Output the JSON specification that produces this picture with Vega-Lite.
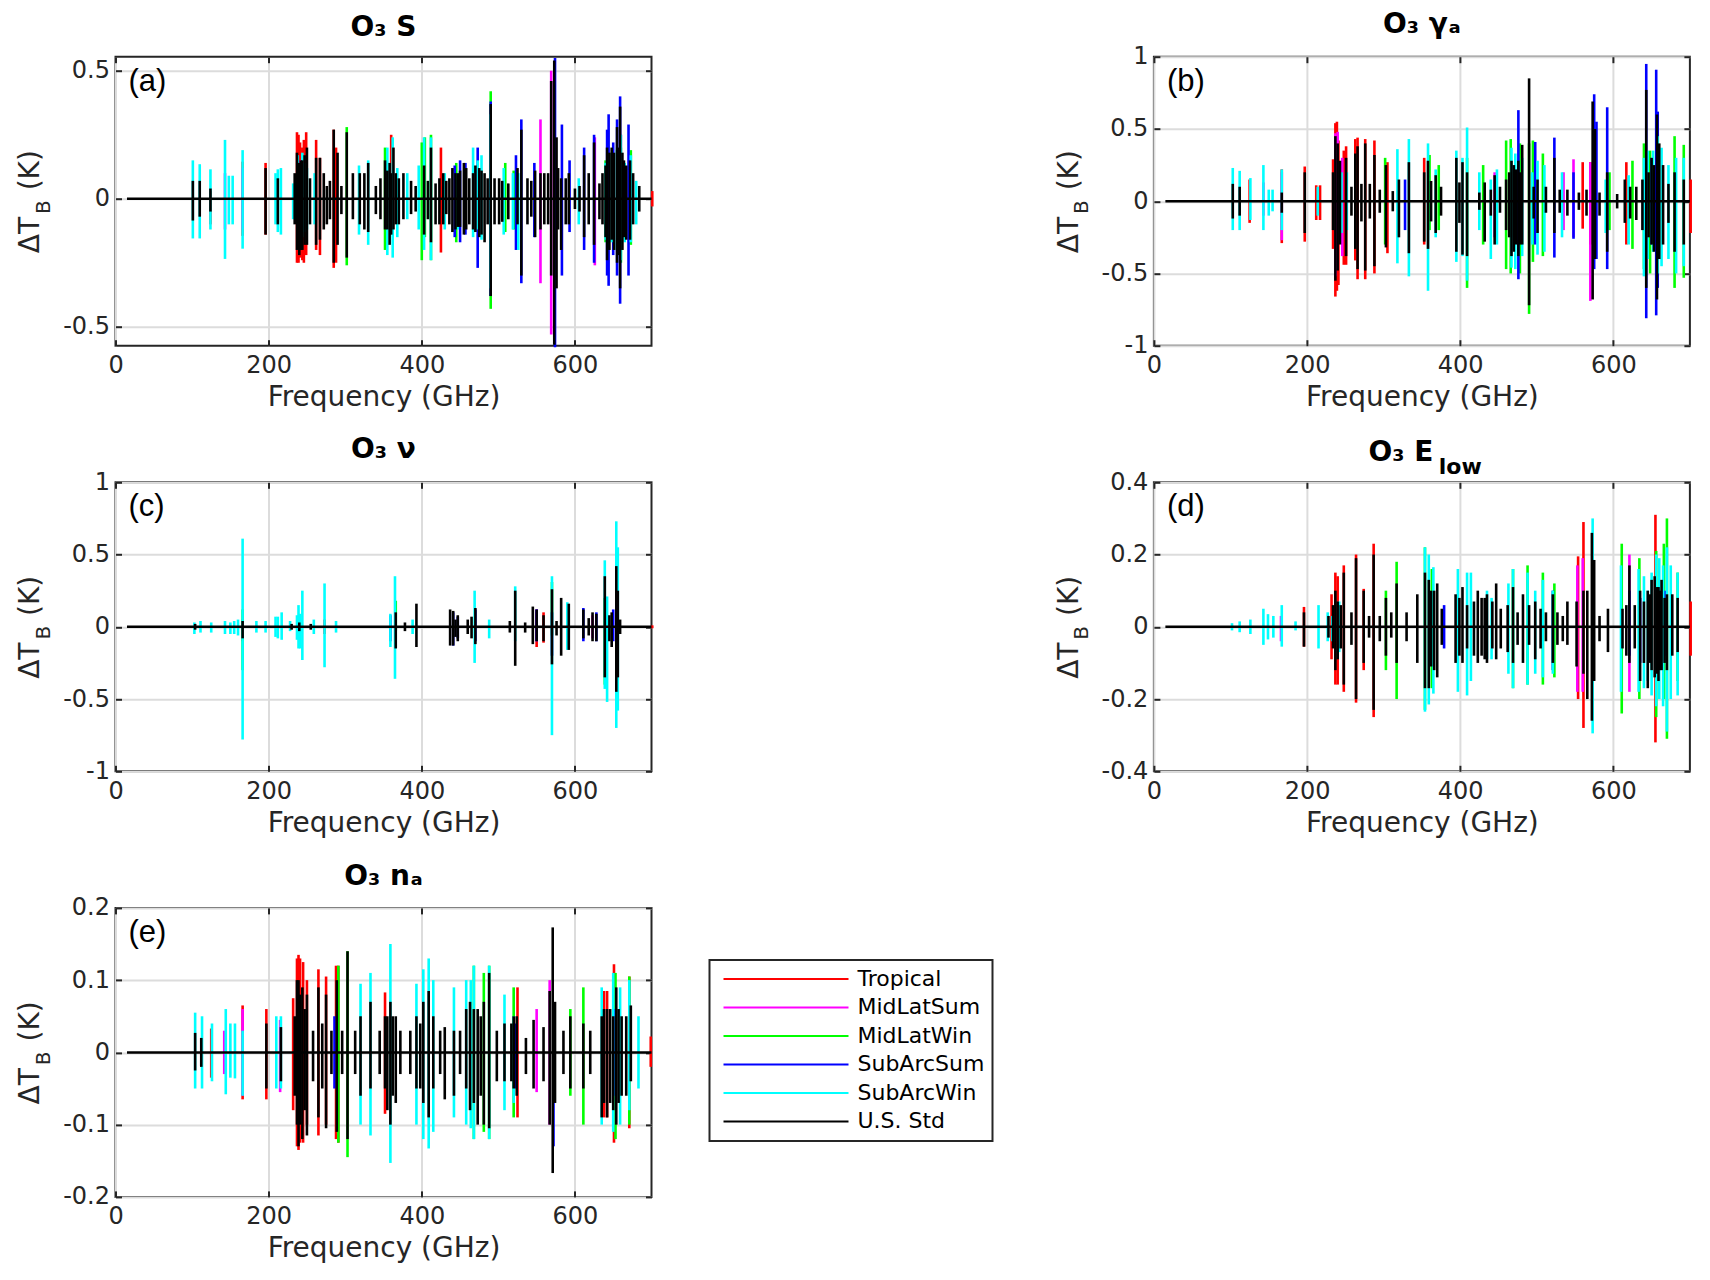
{"$schema":"https://vega.github.io/schema/vega-lite/v6.json","background":"white","padding":{"left":15.5,"top":9.7,"right":0,"bottom":0},
"config":{"font":"DejaVu Sans","legend":{"strokeWidth":2},"view":{"stroke":"#262626","strokeWidth":2,"continuousWidth":536,"continuousHeight":289},"axis":{"labelFont":"DejaVu Sans","titleFont":"DejaVu Sans","labelFontSize":24,"titleFontSize":28,"labelColor":"#262626","titleColor":"#262626","titleFontWeight":"normal","domain":false,"grid":true,"gridColor":"#dcdcdc","gridWidth":2,"tickColor":"#262626","tickWidth":2,"tickSize":-6},"axisX":{"labelPadding":14,"titlePadding":6,"labelFlush":false},"axisY":{"labelPadding":12,"titlePadding":18},"title":{"font":"DejaVu Sans","fontSize":28,"fontWeight":"bold","color":"#000000"}},
"datasets":{
"a":[
{"f":237,"s":"Tropical","lo":-0.25,"hi":0.26},{"f":239,"s":"Tropical","lo":-0.25,"hi":0.25},{"f":241,"s":"Tropical","lo":-0.23,"hi":0.22},{"f":244,"s":"Tropical","lo":-0.24,"hi":0.2},{"f":246,"s":"Tropical","lo":-0.25,"hi":0.23},{"f":249,"s":"Tropical","lo":-0.22,"hi":0.26},{"f":262,"s":"Tropical","lo":-0.2,"hi":0.23},{"f":267,"s":"Tropical","lo":-0.22,"hi":0.16},{"f":285,"s":"Tropical","lo":-0.27,"hi":0.27},{"f":288,"s":"Tropical","lo":-0.25,"hi":0.2},{"f":166,"s":"Tropical","lo":-0.145,"hi":0.145},{"f":124,"s":"Tropical","lo":-0.1,"hi":0.03},{"f":196,"s":"Tropical","lo":-0.14,"hi":0.14},{"f":425,"s":"Tropical","lo":-0.21,"hi":0.2},{"f":360,"s":"Tropical","lo":-0.14,"hi":0.25},{"f":701,"s":"Tropical","lo":-0.03,"hi":0.03},
{"f":143,"s":"MidLatSum","lo":-0.12,"hi":0.1},{"f":166,"s":"MidLatSum","lo":-0.12,"hi":0.12},{"f":238,"s":"MidLatSum","lo":-0.2,"hi":0.17},{"f":242,"s":"MidLatSum","lo":-0.19,"hi":0.15},{"f":555,"s":"MidLatSum","lo":-0.33,"hi":0.31},{"f":569,"s":"MidLatSum","lo":-0.53,"hi":0.5},{"f":626,"s":"MidLatSum","lo":-0.26,"hi":0.24},{"f":660,"s":"MidLatSum","lo":-0.2,"hi":0.25},
{"f":302,"s":"MidLatWin","lo":-0.26,"hi":0.28},{"f":352,"s":"MidLatWin","lo":-0.2,"hi":0.2},{"f":400,"s":"MidLatWin","lo":-0.24,"hi":0.22},{"f":404,"s":"MidLatWin","lo":-0.15,"hi":0.24},{"f":412,"s":"MidLatWin","lo":-0.24,"hi":0.25},{"f":445,"s":"MidLatWin","lo":-0.17,"hi":0.14},{"f":490,"s":"MidLatWin","lo":-0.43,"hi":0.42},{"f":509,"s":"MidLatWin","lo":-0.13,"hi":0.14},{"f":520,"s":"MidLatWin","lo":-0.12,"hi":0.11},{"f":640,"s":"MidLatWin","lo":-0.17,"hi":0.15},{"f":655,"s":"MidLatWin","lo":-0.2,"hi":0.19},{"f":660,"s":"MidLatWin","lo":-0.25,"hi":0.2},{"f":673,"s":"MidLatWin","lo":-0.18,"hi":0.19},
{"f":443,"s":"SubArcSum","lo":-0.15,"hi":0.13},{"f":450,"s":"SubArcSum","lo":-0.17,"hi":0.15},{"f":457,"s":"SubArcSum","lo":-0.14,"hi":0.14},{"f":473,"s":"SubArcSum","lo":-0.27,"hi":0.2},{"f":490,"s":"SubArcSum","lo":-0.38,"hi":0.38},{"f":530,"s":"SubArcSum","lo":-0.33,"hi":0.31},{"f":523,"s":"SubArcSum","lo":-0.2,"hi":0.17},{"f":574,"s":"SubArcSum","lo":-0.58,"hi":0.55},{"f":583,"s":"SubArcSum","lo":-0.3,"hi":0.29},{"f":547,"s":"SubArcSum","lo":-0.15,"hi":0.14},{"f":612,"s":"SubArcSum","lo":-0.2,"hi":0.2},{"f":625,"s":"SubArcSum","lo":-0.25,"hi":0.25},{"f":642,"s":"SubArcSum","lo":-0.3,"hi":0.27},{"f":644,"s":"SubArcSum","lo":-0.34,"hi":0.33},{"f":650,"s":"SubArcSum","lo":-0.22,"hi":0.22},{"f":655,"s":"SubArcSum","lo":-0.3,"hi":0.31},{"f":659,"s":"SubArcSum","lo":-0.41,"hi":0.4},{"f":670,"s":"SubArcSum","lo":-0.3,"hi":0.29},{"f":593,"s":"SubArcSum","lo":-0.13,"hi":0.15},
{"f":101,"s":"SubArcWin","lo":-0.155,"hi":0.15},{"f":110,"s":"SubArcWin","lo":-0.155,"hi":0.135},{"f":124,"s":"SubArcWin","lo":-0.12,"hi":0.115},{"f":143,"s":"SubArcWin","lo":-0.235,"hi":0.23},{"f":148,"s":"SubArcWin","lo":-0.1,"hi":0.09},{"f":153,"s":"SubArcWin","lo":-0.1,"hi":0.09},{"f":166,"s":"SubArcWin","lo":-0.195,"hi":0.19},{"f":209,"s":"SubArcWin","lo":-0.1,"hi":0.1},{"f":212,"s":"SubArcWin","lo":-0.13,"hi":0.115},{"f":216,"s":"SubArcWin","lo":-0.14,"hi":0.12},{"f":232,"s":"SubArcWin","lo":-0.08,"hi":0.06},{"f":238,"s":"SubArcWin","lo":-0.17,"hi":0.17},{"f":241,"s":"SubArcWin","lo":-0.14,"hi":0.13},{"f":244,"s":"SubArcWin","lo":-0.15,"hi":0.18},{"f":247,"s":"SubArcWin","lo":-0.13,"hi":0.14},{"f":250,"s":"SubArcWin","lo":-0.12,"hi":0.12},{"f":260,"s":"SubArcWin","lo":-0.1,"hi":0.1},{"f":318,"s":"SubArcWin","lo":-0.14,"hi":0.13},{"f":330,"s":"SubArcWin","lo":-0.18,"hi":0.15},{"f":355,"s":"SubArcWin","lo":-0.22,"hi":0.2},{"f":362,"s":"SubArcWin","lo":-0.23,"hi":0.24},{"f":368,"s":"SubArcWin","lo":-0.15,"hi":0.12},{"f":381,"s":"SubArcWin","lo":-0.08,"hi":0.1},{"f":396,"s":"SubArcWin","lo":-0.12,"hi":0.13},{"f":403,"s":"SubArcWin","lo":-0.2,"hi":0.24},{"f":412,"s":"SubArcWin","lo":-0.24,"hi":0.24},{"f":430,"s":"SubArcWin","lo":-0.12,"hi":0.1},{"f":447,"s":"SubArcWin","lo":-0.12,"hi":0.1},{"f":467,"s":"SubArcWin","lo":-0.15,"hi":0.2},{"f":473,"s":"SubArcWin","lo":-0.12,"hi":0.15},{"f":478,"s":"SubArcWin","lo":-0.16,"hi":0.17},{"f":490,"s":"SubArcWin","lo":-0.35,"hi":0.33},{"f":507,"s":"SubArcWin","lo":-0.14,"hi":0.12},{"f":519,"s":"SubArcWin","lo":-0.12,"hi":0.1},{"f":526,"s":"SubArcWin","lo":-0.2,"hi":0.1},{"f":605,"s":"SubArcWin","lo":-0.1,"hi":0.08},{"f":640,"s":"SubArcWin","lo":-0.16,"hi":0.14},{"f":648,"s":"SubArcWin","lo":-0.17,"hi":0.18},{"f":655,"s":"SubArcWin","lo":-0.2,"hi":0.2},{"f":660,"s":"SubArcWin","lo":-0.24,"hi":0.25},{"f":665,"s":"SubArcWin","lo":-0.17,"hi":0.14},{"f":673,"s":"SubArcWin","lo":-0.17,"hi":0.17},{"f":680,"s":"SubArcWin","lo":-0.1,"hi":0.07},
{"f":101,"s":"U.S. Std","lo":-0.085,"hi":0.07},{"f":110,"s":"U.S. Std","lo":-0.07,"hi":0.07},{"f":124,"s":"U.S. Std","lo":-0.05,"hi":0.04},{"f":196,"s":"U.S. Std","lo":-0.14,"hi":0.12},{"f":212,"s":"U.S. Std","lo":-0.1,"hi":0.08},{"f":234,"s":"U.S. Std","lo":-0.1,"hi":0.1},{"f":237,"s":"U.S. Std","lo":-0.2,"hi":0.18},{"f":240,"s":"U.S. Std","lo":-0.22,"hi":0.14},{"f":242,"s":"U.S. Std","lo":-0.2,"hi":0.15},{"f":244,"s":"U.S. Std","lo":-0.2,"hi":0.15},{"f":247,"s":"U.S. Std","lo":-0.18,"hi":0.17},{"f":250,"s":"U.S. Std","lo":-0.18,"hi":0.2},{"f":254,"s":"U.S. Std","lo":-0.1,"hi":0.08},{"f":262,"s":"U.S. Std","lo":-0.18,"hi":0.16},{"f":267,"s":"U.S. Std","lo":-0.16,"hi":0.16},{"f":272,"s":"U.S. Std","lo":-0.12,"hi":0.1},{"f":276,"s":"U.S. Std","lo":-0.1,"hi":0.05},{"f":280,"s":"U.S. Std","lo":-0.08,"hi":0.07},{"f":285,"s":"U.S. Std","lo":-0.25,"hi":0.27},{"f":290,"s":"U.S. Std","lo":-0.18,"hi":0.18},{"f":295,"s":"U.S. Std","lo":-0.06,"hi":0.05},{"f":302,"s":"U.S. Std","lo":-0.23,"hi":0.26},{"f":310,"s":"U.S. Std","lo":-0.08,"hi":0.1},{"f":319,"s":"U.S. Std","lo":-0.1,"hi":0.1},{"f":325,"s":"U.S. Std","lo":-0.12,"hi":0.1},{"f":330,"s":"U.S. Std","lo":-0.13,"hi":0.14},{"f":340,"s":"U.S. Std","lo":-0.06,"hi":0.05},{"f":346,"s":"U.S. Std","lo":-0.08,"hi":0.08},{"f":352,"s":"U.S. Std","lo":-0.12,"hi":0.15},{"f":355,"s":"U.S. Std","lo":-0.12,"hi":0.11},{"f":358,"s":"U.S. Std","lo":-0.18,"hi":0.14},{"f":360,"s":"U.S. Std","lo":-0.14,"hi":0.1},{"f":363,"s":"U.S. Std","lo":-0.12,"hi":0.2},{"f":366,"s":"U.S. Std","lo":-0.1,"hi":0.1},{"f":370,"s":"U.S. Std","lo":-0.1,"hi":0.08},{"f":376,"s":"U.S. Std","lo":-0.08,"hi":0.1},{"f":386,"s":"U.S. Std","lo":-0.06,"hi":0.07},{"f":392,"s":"U.S. Std","lo":-0.05,"hi":0.05},{"f":403,"s":"U.S. Std","lo":-0.14,"hi":0.13},{"f":408,"s":"U.S. Std","lo":-0.08,"hi":0.07},{"f":412,"s":"U.S. Std","lo":-0.17,"hi":0.2},{"f":418,"s":"U.S. Std","lo":-0.1,"hi":0.06},{"f":423,"s":"U.S. Std","lo":-0.1,"hi":0.08},{"f":428,"s":"U.S. Std","lo":-0.1,"hi":0.1},{"f":432,"s":"U.S. Std","lo":-0.06,"hi":0.07},{"f":436,"s":"U.S. Std","lo":-0.1,"hi":0.08},{"f":440,"s":"U.S. Std","lo":-0.13,"hi":0.12},{"f":444,"s":"U.S. Std","lo":-0.12,"hi":0.1},{"f":447,"s":"U.S. Std","lo":-0.11,"hi":0.1},{"f":450,"s":"U.S. Std","lo":-0.11,"hi":0.11},{"f":455,"s":"U.S. Std","lo":-0.14,"hi":0.14},{"f":458,"s":"U.S. Std","lo":-0.12,"hi":0.12},{"f":462,"s":"U.S. Std","lo":-0.1,"hi":0.08},{"f":467,"s":"U.S. Std","lo":-0.12,"hi":0.1},{"f":470,"s":"U.S. Std","lo":-0.13,"hi":0.13},{"f":475,"s":"U.S. Std","lo":-0.15,"hi":0.12},{"f":478,"s":"U.S. Std","lo":-0.14,"hi":0.11},{"f":482,"s":"U.S. Std","lo":-0.17,"hi":0.1},{"f":486,"s":"U.S. Std","lo":-0.1,"hi":0.08},{"f":490,"s":"U.S. Std","lo":-0.38,"hi":0.37},{"f":495,"s":"U.S. Std","lo":-0.1,"hi":0.08},{"f":501,"s":"U.S. Std","lo":-0.1,"hi":0.08},{"f":505,"s":"U.S. Std","lo":-0.09,"hi":0.07},{"f":513,"s":"U.S. Std","lo":-0.08,"hi":0.06},{"f":525,"s":"U.S. Std","lo":-0.1,"hi":0.12},{"f":530,"s":"U.S. Std","lo":-0.3,"hi":0.27},{"f":538,"s":"U.S. Std","lo":-0.1,"hi":0.08},{"f":543,"s":"U.S. Std","lo":-0.07,"hi":0.07},{"f":548,"s":"U.S. Std","lo":-0.15,"hi":0.11},{"f":555,"s":"U.S. Std","lo":-0.12,"hi":0.1},{"f":560,"s":"U.S. Std","lo":-0.1,"hi":0.1},{"f":565,"s":"U.S. Std","lo":-0.1,"hi":0.1},{"f":569,"s":"U.S. Std","lo":-0.3,"hi":0.46},{"f":573,"s":"U.S. Std","lo":-0.57,"hi":0.54},{"f":576,"s":"U.S. Std","lo":-0.35,"hi":0.24},{"f":578,"s":"U.S. Std","lo":-0.12,"hi":0.12},{"f":582,"s":"U.S. Std","lo":-0.2,"hi":0.08},{"f":588,"s":"U.S. Std","lo":-0.1,"hi":0.08},{"f":592,"s":"U.S. Std","lo":-0.1,"hi":0.1},{"f":600,"s":"U.S. Std","lo":-0.04,"hi":0.04},{"f":606,"s":"U.S. Std","lo":-0.05,"hi":0.05},{"f":612,"s":"U.S. Std","lo":-0.15,"hi":0.17},{"f":618,"s":"U.S. Std","lo":-0.1,"hi":0.1},{"f":625,"s":"U.S. Std","lo":-0.18,"hi":0.22},{"f":632,"s":"U.S. Std","lo":-0.08,"hi":0.06},{"f":636,"s":"U.S. Std","lo":-0.1,"hi":0.1},{"f":640,"s":"U.S. Std","lo":-0.15,"hi":0.13},{"f":642,"s":"U.S. Std","lo":-0.24,"hi":0.2},{"f":645,"s":"U.S. Std","lo":-0.2,"hi":0.18},{"f":648,"s":"U.S. Std","lo":-0.16,"hi":0.2},{"f":651,"s":"U.S. Std","lo":-0.2,"hi":0.18},{"f":655,"s":"U.S. Std","lo":-0.25,"hi":0.28},{"f":657,"s":"U.S. Std","lo":-0.22,"hi":0.2},{"f":659,"s":"U.S. Std","lo":-0.35,"hi":0.36},{"f":662,"s":"U.S. Std","lo":-0.2,"hi":0.18},{"f":664,"s":"U.S. Std","lo":-0.15,"hi":0.15},{"f":667,"s":"U.S. Std","lo":-0.16,"hi":0.13},{"f":672,"s":"U.S. Std","lo":-0.16,"hi":0.15},{"f":676,"s":"U.S. Std","lo":-0.1,"hi":0.1},{"f":684,"s":"U.S. Std","lo":-0.05,"hi":0.05}],
"b":[
{"f":125,"s":"Tropical","lo":-0.15,"hi":0.15},{"f":167,"s":"Tropical","lo":-0.29,"hi":0.22},{"f":197,"s":"Tropical","lo":-0.28,"hi":0.24},{"f":212,"s":"Tropical","lo":-0.13,"hi":0.11},{"f":217,"s":"Tropical","lo":-0.13,"hi":0.11},{"f":234,"s":"Tropical","lo":-0.33,"hi":0.29},{"f":237,"s":"Tropical","lo":-0.66,"hi":0.54},{"f":239,"s":"Tropical","lo":-0.62,"hi":0.55},{"f":241,"s":"Tropical","lo":-0.58,"hi":0.42},{"f":248,"s":"Tropical","lo":-0.44,"hi":0.35},{"f":251,"s":"Tropical","lo":-0.44,"hi":0.38},{"f":263,"s":"Tropical","lo":-0.41,"hi":0.43},{"f":266,"s":"Tropical","lo":-0.54,"hi":0.44},{"f":276,"s":"Tropical","lo":-0.54,"hi":0.43},{"f":288,"s":"Tropical","lo":-0.5,"hi":0.42},{"f":305,"s":"Tropical","lo":-0.36,"hi":0.27},{"f":353,"s":"Tropical","lo":-0.3,"hi":0.3},{"f":570,"s":"Tropical","lo":-0.3,"hi":0.27},{"f":560,"s":"Tropical","lo":-0.19,"hi":0.27},{"f":617,"s":"Tropical","lo":-0.3,"hi":0.27},{"f":701,"s":"Tropical","lo":-0.22,"hi":0.15},
{"f":143,"s":"MidLatSum","lo":-0.1,"hi":0.13},{"f":167,"s":"MidLatSum","lo":-0.27,"hi":0.2},{"f":237,"s":"MidLatSum","lo":-0.52,"hi":0.47},{"f":240,"s":"MidLatSum","lo":-0.47,"hi":0.48},{"f":246,"s":"MidLatSum","lo":-0.38,"hi":0.3},{"f":445,"s":"MidLatSum","lo":-0.25,"hi":0.2},{"f":570,"s":"MidLatSum","lo":-0.69,"hi":0.27},{"f":548,"s":"MidLatSum","lo":-0.25,"hi":0.29},{"f":535,"s":"MidLatSum","lo":-0.2,"hi":0.2},
{"f":302,"s":"MidLatWin","lo":-0.3,"hi":0.3},{"f":360,"s":"MidLatWin","lo":-0.2,"hi":0.32},{"f":372,"s":"MidLatWin","lo":-0.2,"hi":0.25},{"f":409,"s":"MidLatWin","lo":-0.6,"hi":0.3},{"f":430,"s":"MidLatWin","lo":-0.3,"hi":0.25},{"f":460,"s":"MidLatWin","lo":-0.47,"hi":0.42},{"f":466,"s":"MidLatWin","lo":-0.5,"hi":0.43},{"f":478,"s":"MidLatWin","lo":-0.5,"hi":0.4},{"f":490,"s":"MidLatWin","lo":-0.78,"hi":0.4},{"f":495,"s":"MidLatWin","lo":-0.42,"hi":0.42},{"f":508,"s":"MidLatWin","lo":-0.38,"hi":0.33},{"f":640,"s":"MidLatWin","lo":-0.47,"hi":0.4},{"f":648,"s":"MidLatWin","lo":-0.5,"hi":0.35},{"f":658,"s":"MidLatWin","lo":-0.52,"hi":0.47},{"f":680,"s":"MidLatWin","lo":-0.6,"hi":0.45},{"f":692,"s":"MidLatWin","lo":-0.53,"hi":0.39},{"f":595,"s":"MidLatWin","lo":-0.2,"hi":0.2},{"f":625,"s":"MidLatWin","lo":-0.33,"hi":0.28},
{"f":328,"s":"SubArcSum","lo":-0.2,"hi":0.15},{"f":476,"s":"SubArcSum","lo":-0.54,"hi":0.63},{"f":498,"s":"SubArcSum","lo":-0.3,"hi":0.41},{"f":523,"s":"SubArcSum","lo":-0.39,"hi":0.44},{"f":548,"s":"SubArcSum","lo":-0.26,"hi":0.2},{"f":575,"s":"SubArcSum","lo":-0.47,"hi":0.74},{"f":578,"s":"SubArcSum","lo":-0.4,"hi":0.55},{"f":592,"s":"SubArcSum","lo":-0.47,"hi":0.65},{"f":643,"s":"SubArcSum","lo":-0.81,"hi":0.95},{"f":656,"s":"SubArcSum","lo":-0.79,"hi":0.91},{"f":658,"s":"SubArcSum","lo":-0.6,"hi":0.62},{"f":650,"s":"SubArcSum","lo":-0.3,"hi":0.3},
{"f":103,"s":"SubArcWin","lo":-0.2,"hi":0.23},{"f":112,"s":"SubArcWin","lo":-0.2,"hi":0.21},{"f":126,"s":"SubArcWin","lo":-0.13,"hi":0.16},{"f":143,"s":"SubArcWin","lo":-0.2,"hi":0.25},{"f":150,"s":"SubArcWin","lo":-0.1,"hi":0.08},{"f":155,"s":"SubArcWin","lo":-0.07,"hi":0.08},{"f":167,"s":"SubArcWin","lo":-0.2,"hi":0.22},{"f":214,"s":"SubArcWin","lo":-0.1,"hi":0.1},{"f":245,"s":"SubArcWin","lo":-0.22,"hi":0.2},{"f":252,"s":"SubArcWin","lo":-0.2,"hi":0.2},{"f":318,"s":"SubArcWin","lo":-0.43,"hi":0.36},{"f":333,"s":"SubArcWin","lo":-0.52,"hi":0.43},{"f":358,"s":"SubArcWin","lo":-0.62,"hi":0.4},{"f":368,"s":"SubArcWin","lo":-0.25,"hi":0.22},{"f":395,"s":"SubArcWin","lo":-0.42,"hi":0.35},{"f":403,"s":"SubArcWin","lo":-0.38,"hi":0.3},{"f":409,"s":"SubArcWin","lo":-0.55,"hi":0.51},{"f":425,"s":"SubArcWin","lo":-0.2,"hi":0.2},{"f":440,"s":"SubArcWin","lo":-0.4,"hi":0.15},{"f":448,"s":"SubArcWin","lo":-0.3,"hi":0.22},{"f":467,"s":"SubArcWin","lo":-0.46,"hi":0.37},{"f":472,"s":"SubArcWin","lo":-0.47,"hi":0.33},{"f":481,"s":"SubArcWin","lo":-0.38,"hi":0.3},{"f":494,"s":"SubArcWin","lo":-0.3,"hi":0.2},{"f":501,"s":"SubArcWin","lo":-0.37,"hi":0.28},{"f":510,"s":"SubArcWin","lo":-0.35,"hi":0.25},{"f":533,"s":"SubArcWin","lo":-0.25,"hi":0.2},{"f":590,"s":"SubArcWin","lo":-0.22,"hi":0.15},{"f":620,"s":"SubArcWin","lo":-0.3,"hi":0.18},{"f":640,"s":"SubArcWin","lo":-0.52,"hi":0.3},{"f":645,"s":"SubArcWin","lo":-0.4,"hi":0.35},{"f":652,"s":"SubArcWin","lo":-0.35,"hi":0.35},{"f":658,"s":"SubArcWin","lo":-0.5,"hi":0.45},{"f":663,"s":"SubArcWin","lo":-0.45,"hi":0.37},{"f":672,"s":"SubArcWin","lo":-0.4,"hi":0.25},{"f":682,"s":"SubArcWin","lo":-0.5,"hi":0.3},{"f":692,"s":"SubArcWin","lo":-0.45,"hi":0.3},
{"f":103,"s":"U.S. Std","lo":-0.12,"hi":0.12},{"f":112,"s":"U.S. Std","lo":-0.1,"hi":0.1},{"f":197,"s":"U.S. Std","lo":-0.22,"hi":0.2},{"f":167,"s":"U.S. Std","lo":-0.08,"hi":0.06},{"f":234,"s":"U.S. Std","lo":-0.2,"hi":0.2},{"f":237,"s":"U.S. Std","lo":-0.55,"hi":0.45},{"f":240,"s":"U.S. Std","lo":-0.48,"hi":0.4},{"f":243,"s":"U.S. Std","lo":-0.3,"hi":0.28},{"f":251,"s":"U.S. Std","lo":-0.38,"hi":0.3},{"f":258,"s":"U.S. Std","lo":-0.1,"hi":0.1},{"f":263,"s":"U.S. Std","lo":-0.33,"hi":0.33},{"f":266,"s":"U.S. Std","lo":-0.47,"hi":0.38},{"f":271,"s":"U.S. Std","lo":-0.14,"hi":0.12},{"f":276,"s":"U.S. Std","lo":-0.48,"hi":0.4},{"f":282,"s":"U.S. Std","lo":-0.12,"hi":0.12},{"f":288,"s":"U.S. Std","lo":-0.45,"hi":0.32},{"f":295,"s":"U.S. Std","lo":-0.08,"hi":0.08},{"f":303,"s":"U.S. Std","lo":-0.32,"hi":0.25},{"f":312,"s":"U.S. Std","lo":-0.07,"hi":0.07},{"f":320,"s":"U.S. Std","lo":-0.25,"hi":0.15},{"f":333,"s":"U.S. Std","lo":-0.36,"hi":0.27},{"f":353,"s":"U.S. Std","lo":-0.28,"hi":0.2},{"f":358,"s":"U.S. Std","lo":-0.33,"hi":0.28},{"f":362,"s":"U.S. Std","lo":-0.14,"hi":0.14},{"f":368,"s":"U.S. Std","lo":-0.22,"hi":0.18},{"f":375,"s":"U.S. Std","lo":-0.1,"hi":0.1},{"f":395,"s":"U.S. Std","lo":-0.35,"hi":0.3},{"f":399,"s":"U.S. Std","lo":-0.15,"hi":0.13},{"f":403,"s":"U.S. Std","lo":-0.37,"hi":0.27},{"f":409,"s":"U.S. Std","lo":-0.38,"hi":0.2},{"f":425,"s":"U.S. Std","lo":-0.06,"hi":0.06},{"f":432,"s":"U.S. Std","lo":-0.28,"hi":0.13},{"f":440,"s":"U.S. Std","lo":-0.1,"hi":0.08},{"f":445,"s":"U.S. Std","lo":-0.3,"hi":0.18},{"f":452,"s":"U.S. Std","lo":-0.08,"hi":0.1},{"f":460,"s":"U.S. Std","lo":-0.2,"hi":0.15},{"f":464,"s":"U.S. Std","lo":-0.25,"hi":0.2},{"f":467,"s":"U.S. Std","lo":-0.38,"hi":0.28},{"f":470,"s":"U.S. Std","lo":-0.35,"hi":0.25},{"f":473,"s":"U.S. Std","lo":-0.3,"hi":0.22},{"f":476,"s":"U.S. Std","lo":-0.38,"hi":0.28},{"f":478,"s":"U.S. Std","lo":-0.3,"hi":0.2},{"f":481,"s":"U.S. Std","lo":-0.3,"hi":0.39},{"f":490,"s":"U.S. Std","lo":-0.72,"hi":0.85},{"f":496,"s":"U.S. Std","lo":-0.12,"hi":0.1},{"f":501,"s":"U.S. Std","lo":-0.22,"hi":0.15},{"f":512,"s":"U.S. Std","lo":-0.08,"hi":0.1},{"f":523,"s":"U.S. Std","lo":-0.22,"hi":0.3},{"f":530,"s":"U.S. Std","lo":-0.08,"hi":0.08},{"f":540,"s":"U.S. Std","lo":-0.1,"hi":0.08},{"f":555,"s":"U.S. Std","lo":-0.06,"hi":0.06},{"f":565,"s":"U.S. Std","lo":-0.1,"hi":0.08},{"f":573,"s":"U.S. Std","lo":-0.68,"hi":0.69},{"f":576,"s":"U.S. Std","lo":-0.4,"hi":0.5},{"f":582,"s":"U.S. Std","lo":-0.1,"hi":0.06},{"f":592,"s":"U.S. Std","lo":-0.35,"hi":0.2},{"f":605,"s":"U.S. Std","lo":-0.05,"hi":0.05},{"f":615,"s":"U.S. Std","lo":-0.15,"hi":0.15},{"f":622,"s":"U.S. Std","lo":-0.12,"hi":0.1},{"f":630,"s":"U.S. Std","lo":-0.13,"hi":0.1},{"f":638,"s":"U.S. Std","lo":-0.2,"hi":0.15},{"f":643,"s":"U.S. Std","lo":-0.6,"hi":0.77},{"f":646,"s":"U.S. Std","lo":-0.25,"hi":0.2},{"f":650,"s":"U.S. Std","lo":-0.3,"hi":0.3},{"f":653,"s":"U.S. Std","lo":-0.35,"hi":0.25},{"f":657,"s":"U.S. Std","lo":-0.68,"hi":0.6},{"f":660,"s":"U.S. Std","lo":-0.4,"hi":0.4},{"f":665,"s":"U.S. Std","lo":-0.3,"hi":0.25},{"f":672,"s":"U.S. Std","lo":-0.15,"hi":0.12},{"f":680,"s":"U.S. Std","lo":-0.35,"hi":0.2},{"f":692,"s":"U.S. Std","lo":-0.3,"hi":0.15}],
"c":[
{"f":166,"s":"Tropical","lo":-0.1,"hi":0.05},{"f":273,"s":"Tropical","lo":-0.05,"hi":0.05},{"f":559,"s":"Tropical","lo":-0.11,"hi":0.1},{"f":550,"s":"Tropical","lo":-0.14,"hi":0.1},{"f":701,"s":"Tropical","lo":-0.01,"hi":0.01},
{"f":550,"s":"MidLatSum","lo":-0.1,"hi":0.12},{"f":655,"s":"MidLatSum","lo":-0.08,"hi":0.18},{"f":623,"s":"MidLatSum","lo":-0.08,"hi":0.08},
{"f":166,"s":"MidLatWin","lo":-0.3,"hi":0.12},{"f":570,"s":"MidLatWin","lo":-0.06,"hi":0.31},{"f":366,"s":"MidLatWin","lo":-0.03,"hi":0.18},{"f":639,"s":"MidLatWin","lo":-0.4,"hi":0.2},
{"f":359,"s":"SubArcSum","lo":-0.1,"hi":0.08},{"f":441,"s":"SubArcSum","lo":-0.13,"hi":0.1},{"f":447,"s":"SubArcSum","lo":-0.08,"hi":0.07},{"f":470,"s":"SubArcSum","lo":-0.1,"hi":0.12},{"f":570,"s":"SubArcSum","lo":-0.2,"hi":0.1},{"f":550,"s":"SubArcSum","lo":-0.1,"hi":0.12},{"f":611,"s":"SubArcSum","lo":-0.1,"hi":0.13},{"f":628,"s":"SubArcSum","lo":-0.1,"hi":0.1},{"f":650,"s":"SubArcSum","lo":-0.1,"hi":0.12},{"f":655,"s":"SubArcSum","lo":-0.12,"hi":0.1},
{"f":103,"s":"SubArcWin","lo":-0.05,"hi":0.03},{"f":111,"s":"SubArcWin","lo":-0.04,"hi":0.04},{"f":125,"s":"SubArcWin","lo":-0.04,"hi":0.03},{"f":143,"s":"SubArcWin","lo":-0.05,"hi":0.04},{"f":150,"s":"SubArcWin","lo":-0.05,"hi":0.03},{"f":155,"s":"SubArcWin","lo":-0.05,"hi":0.04},{"f":160,"s":"SubArcWin","lo":-0.06,"hi":0.05},{"f":166,"s":"SubArcWin","lo":-0.78,"hi":0.61},{"f":184,"s":"SubArcWin","lo":-0.04,"hi":0.04},{"f":196,"s":"SubArcWin","lo":-0.04,"hi":0.04},{"f":209,"s":"SubArcWin","lo":-0.07,"hi":0.07},{"f":212,"s":"SubArcWin","lo":-0.08,"hi":0.07},{"f":217,"s":"SubArcWin","lo":-0.09,"hi":0.1},{"f":228,"s":"SubArcWin","lo":-0.03,"hi":0.04},{"f":237,"s":"SubArcWin","lo":-0.09,"hi":0.08},{"f":239,"s":"SubArcWin","lo":-0.15,"hi":0.15},{"f":241,"s":"SubArcWin","lo":-0.15,"hi":0.09},{"f":244,"s":"SubArcWin","lo":-0.23,"hi":0.25},{"f":259,"s":"SubArcWin","lo":-0.05,"hi":0.05},{"f":273,"s":"SubArcWin","lo":-0.28,"hi":0.3},{"f":288,"s":"SubArcWin","lo":-0.04,"hi":0.04},{"f":359,"s":"SubArcWin","lo":-0.14,"hi":0.09},{"f":365,"s":"SubArcWin","lo":-0.36,"hi":0.35},{"f":388,"s":"SubArcWin","lo":-0.05,"hi":0.05},{"f":469,"s":"SubArcWin","lo":-0.25,"hi":0.25},{"f":488,"s":"SubArcWin","lo":-0.08,"hi":0.05},{"f":522,"s":"SubArcWin","lo":-0.1,"hi":0.28},{"f":570,"s":"SubArcWin","lo":-0.75,"hi":0.35},{"f":590,"s":"SubArcWin","lo":-0.16,"hi":0.17},{"f":639,"s":"SubArcWin","lo":-0.43,"hi":0.46},{"f":642,"s":"SubArcWin","lo":-0.52,"hi":0.21},{"f":654,"s":"SubArcWin","lo":-0.7,"hi":0.73},{"f":656,"s":"SubArcWin","lo":-0.58,"hi":0.55},
{"f":104,"s":"U.S. Std","lo":-0.02,"hi":0.02},{"f":166,"s":"U.S. Std","lo":-0.08,"hi":0.04},{"f":230,"s":"U.S. Std","lo":-0.02,"hi":0.02},{"f":240,"s":"U.S. Std","lo":-0.03,"hi":0.03},{"f":255,"s":"U.S. Std","lo":-0.02,"hi":0.02},{"f":366,"s":"U.S. Std","lo":-0.15,"hi":0.1},{"f":378,"s":"U.S. Std","lo":-0.03,"hi":0.03},{"f":393,"s":"U.S. Std","lo":-0.14,"hi":0.16},{"f":437,"s":"U.S. Std","lo":-0.13,"hi":0.12},{"f":441,"s":"U.S. Std","lo":-0.13,"hi":0.11},{"f":444,"s":"U.S. Std","lo":-0.07,"hi":0.05},{"f":447,"s":"U.S. Std","lo":-0.1,"hi":0.08},{"f":460,"s":"U.S. Std","lo":-0.05,"hi":0.05},{"f":465,"s":"U.S. Std","lo":-0.08,"hi":0.07},{"f":470,"s":"U.S. Std","lo":-0.12,"hi":0.13},{"f":515,"s":"U.S. Std","lo":-0.04,"hi":0.04},{"f":522,"s":"U.S. Std","lo":-0.27,"hi":0.25},{"f":535,"s":"U.S. Std","lo":-0.04,"hi":0.03},{"f":545,"s":"U.S. Std","lo":-0.12,"hi":0.14},{"f":550,"s":"U.S. Std","lo":-0.1,"hi":0.12},{"f":559,"s":"U.S. Std","lo":-0.1,"hi":0.08},{"f":570,"s":"U.S. Std","lo":-0.26,"hi":0.26},{"f":576,"s":"U.S. Std","lo":-0.06,"hi":0.04},{"f":582,"s":"U.S. Std","lo":-0.2,"hi":0.2},{"f":592,"s":"U.S. Std","lo":-0.16,"hi":0.16},{"f":611,"s":"U.S. Std","lo":-0.08,"hi":0.12},{"f":618,"s":"U.S. Std","lo":-0.06,"hi":0.06},{"f":623,"s":"U.S. Std","lo":-0.1,"hi":0.1},{"f":628,"s":"U.S. Std","lo":-0.1,"hi":0.09},{"f":639,"s":"U.S. Std","lo":-0.35,"hi":0.35},{"f":645,"s":"U.S. Std","lo":-0.1,"hi":0.08},{"f":648,"s":"U.S. Std","lo":-0.14,"hi":0.1},{"f":654,"s":"U.S. Std","lo":-0.45,"hi":0.42},{"f":656,"s":"U.S. Std","lo":-0.35,"hi":0.25},{"f":659,"s":"U.S. Std","lo":-0.05,"hi":0.05}],
"d":[
{"f":196,"s":"Tropical","lo":-0.055,"hi":0.055},{"f":232,"s":"Tropical","lo":-0.09,"hi":0.09},{"f":237,"s":"Tropical","lo":-0.16,"hi":0.15},{"f":240,"s":"Tropical","lo":-0.16,"hi":0.14},{"f":248,"s":"Tropical","lo":-0.18,"hi":0.17},{"f":264,"s":"Tropical","lo":-0.21,"hi":0.2},{"f":274,"s":"Tropical","lo":-0.12,"hi":0.105},{"f":287,"s":"Tropical","lo":-0.25,"hi":0.23},{"f":554,"s":"Tropical","lo":-0.2,"hi":0.195},{"f":561,"s":"Tropical","lo":-0.28,"hi":0.29},{"f":655,"s":"Tropical","lo":-0.32,"hi":0.31},{"f":701,"s":"Tropical","lo":-0.08,"hi":0.07},
{"f":166,"s":"MidLatSum","lo":-0.04,"hi":0.03},{"f":553,"s":"MidLatSum","lo":-0.18,"hi":0.17},{"f":560,"s":"MidLatSum","lo":-0.18,"hi":0.19},{"f":621,"s":"MidLatSum","lo":-0.18,"hi":0.2},
{"f":303,"s":"MidLatWin","lo":-0.12,"hi":0.1},{"f":317,"s":"MidLatWin","lo":-0.2,"hi":0.18},{"f":354,"s":"MidLatWin","lo":-0.23,"hi":0.22},{"f":363,"s":"MidLatWin","lo":-0.17,"hi":0.16},{"f":469,"s":"MidLatWin","lo":-0.17,"hi":0.16},{"f":488,"s":"MidLatWin","lo":-0.16,"hi":0.17},{"f":508,"s":"MidLatWin","lo":-0.16,"hi":0.15},{"f":523,"s":"MidLatWin","lo":-0.14,"hi":0.12},{"f":611,"s":"MidLatWin","lo":-0.24,"hi":0.23},{"f":634,"s":"MidLatWin","lo":-0.2,"hi":0.19},{"f":656,"s":"MidLatWin","lo":-0.25,"hi":0.21},{"f":666,"s":"MidLatWin","lo":-0.2,"hi":0.23},{"f":670,"s":"MidLatWin","lo":-0.31,"hi":0.3},{"f":684,"s":"MidLatWin","lo":-0.15,"hi":0.15},
{"f":379,"s":"SubArcSum","lo":-0.06,"hi":0.06},{"f":521,"s":"SubArcSum","lo":-0.12,"hi":0.1},{"f":621,"s":"SubArcSum","lo":-0.08,"hi":0.1},{"f":635,"s":"SubArcSum","lo":-0.1,"hi":0.08},{"f":659,"s":"SubArcSum","lo":-0.12,"hi":0.09},{"f":668,"s":"SubArcSum","lo":-0.08,"hi":0.1},
{"f":102,"s":"SubArcWin","lo":-0.01,"hi":0.01},{"f":112,"s":"SubArcWin","lo":-0.015,"hi":0.015},{"f":126,"s":"SubArcWin","lo":-0.02,"hi":0.02},{"f":143,"s":"SubArcWin","lo":-0.05,"hi":0.05},{"f":149,"s":"SubArcWin","lo":-0.035,"hi":0.035},{"f":156,"s":"SubArcWin","lo":-0.03,"hi":0.03},{"f":167,"s":"SubArcWin","lo":-0.055,"hi":0.06},{"f":185,"s":"SubArcWin","lo":-0.01,"hi":0.015},{"f":215,"s":"SubArcWin","lo":-0.06,"hi":0.06},{"f":227,"s":"SubArcWin","lo":-0.04,"hi":0.04},{"f":233,"s":"SubArcWin","lo":-0.04,"hi":0.03},{"f":242,"s":"SubArcWin","lo":-0.07,"hi":0.07},{"f":354,"s":"SubArcWin","lo":-0.235,"hi":0.22},{"f":359,"s":"SubArcWin","lo":-0.215,"hi":0.2},{"f":365,"s":"SubArcWin","lo":-0.185,"hi":0.165},{"f":397,"s":"SubArcWin","lo":-0.18,"hi":0.16},{"f":409,"s":"SubArcWin","lo":-0.19,"hi":0.15},{"f":414,"s":"SubArcWin","lo":-0.15,"hi":0.15},{"f":435,"s":"SubArcWin","lo":-0.09,"hi":0.1},{"f":441,"s":"SubArcWin","lo":-0.09,"hi":0.08},{"f":463,"s":"SubArcWin","lo":-0.13,"hi":0.12},{"f":469,"s":"SubArcWin","lo":-0.17,"hi":0.16},{"f":488,"s":"SubArcWin","lo":-0.16,"hi":0.15},{"f":498,"s":"SubArcWin","lo":-0.13,"hi":0.1},{"f":508,"s":"SubArcWin","lo":-0.14,"hi":0.13},{"f":521,"s":"SubArcWin","lo":-0.13,"hi":0.1},{"f":573,"s":"SubArcWin","lo":-0.295,"hi":0.3},{"f":610,"s":"SubArcWin","lo":-0.18,"hi":0.17},{"f":633,"s":"SubArcWin","lo":-0.18,"hi":0.16},{"f":640,"s":"SubArcWin","lo":-0.17,"hi":0.14},{"f":645,"s":"SubArcWin","lo":-0.15,"hi":0.1},{"f":650,"s":"SubArcWin","lo":-0.19,"hi":0.15},{"f":656,"s":"SubArcWin","lo":-0.22,"hi":0.2},{"f":660,"s":"SubArcWin","lo":-0.2,"hi":0.19},{"f":665,"s":"SubArcWin","lo":-0.22,"hi":0.17},{"f":670,"s":"SubArcWin","lo":-0.29,"hi":0.22},{"f":675,"s":"SubArcWin","lo":-0.2,"hi":0.17},{"f":684,"s":"SubArcWin","lo":-0.19,"hi":0.15},
{"f":196,"s":"U.S. Std","lo":-0.055,"hi":0.04},{"f":228,"s":"U.S. Std","lo":-0.03,"hi":0.03},{"f":234,"s":"U.S. Std","lo":-0.06,"hi":0.06},{"f":237,"s":"U.S. Std","lo":-0.12,"hi":0.1},{"f":240,"s":"U.S. Std","lo":-0.09,"hi":0.07},{"f":244,"s":"U.S. Std","lo":-0.06,"hi":0.06},{"f":248,"s":"U.S. Std","lo":-0.16,"hi":0.15},{"f":258,"s":"U.S. Std","lo":-0.05,"hi":0.04},{"f":264,"s":"U.S. Std","lo":-0.2,"hi":0.19},{"f":274,"s":"U.S. Std","lo":-0.1,"hi":0.1},{"f":281,"s":"U.S. Std","lo":-0.03,"hi":0.03},{"f":287,"s":"U.S. Std","lo":-0.23,"hi":0.2},{"f":295,"s":"U.S. Std","lo":-0.04,"hi":0.03},{"f":303,"s":"U.S. Std","lo":-0.08,"hi":0.08},{"f":310,"s":"U.S. Std","lo":-0.03,"hi":0.04},{"f":317,"s":"U.S. Std","lo":-0.1,"hi":0.12},{"f":330,"s":"U.S. Std","lo":-0.04,"hi":0.04},{"f":344,"s":"U.S. Std","lo":-0.1,"hi":0.09},{"f":354,"s":"U.S. Std","lo":-0.17,"hi":0.15},{"f":359,"s":"U.S. Std","lo":-0.17,"hi":0.13},{"f":362,"s":"U.S. Std","lo":-0.11,"hi":0.1},{"f":366,"s":"U.S. Std","lo":-0.12,"hi":0.1},{"f":370,"s":"U.S. Std","lo":-0.14,"hi":0.12},{"f":376,"s":"U.S. Std","lo":-0.05,"hi":0.05},{"f":394,"s":"U.S. Std","lo":-0.1,"hi":0.09},{"f":399,"s":"U.S. Std","lo":-0.08,"hi":0.08},{"f":403,"s":"U.S. Std","lo":-0.1,"hi":0.11},{"f":409,"s":"U.S. Std","lo":-0.06,"hi":0.06},{"f":418,"s":"U.S. Std","lo":-0.08,"hi":0.07},{"f":423,"s":"U.S. Std","lo":-0.1,"hi":0.1},{"f":428,"s":"U.S. Std","lo":-0.08,"hi":0.08},{"f":432,"s":"U.S. Std","lo":-0.09,"hi":0.08},{"f":435,"s":"U.S. Std","lo":-0.1,"hi":0.09},{"f":442,"s":"U.S. Std","lo":-0.06,"hi":0.07},{"f":447,"s":"U.S. Std","lo":-0.09,"hi":0.12},{"f":453,"s":"U.S. Std","lo":-0.06,"hi":0.05},{"f":462,"s":"U.S. Std","lo":-0.07,"hi":0.06},{"f":469,"s":"U.S. Std","lo":-0.1,"hi":0.11},{"f":475,"s":"U.S. Std","lo":-0.05,"hi":0.04},{"f":482,"s":"U.S. Std","lo":-0.1,"hi":0.09},{"f":490,"s":"U.S. Std","lo":-0.05,"hi":0.06},{"f":498,"s":"U.S. Std","lo":-0.09,"hi":0.07},{"f":505,"s":"U.S. Std","lo":-0.06,"hi":0.05},{"f":512,"s":"U.S. Std","lo":-0.04,"hi":0.04},{"f":521,"s":"U.S. Std","lo":-0.1,"hi":0.09},{"f":527,"s":"U.S. Std","lo":-0.05,"hi":0.04},{"f":534,"s":"U.S. Std","lo":-0.04,"hi":0.03},{"f":540,"s":"U.S. Std","lo":-0.05,"hi":0.07},{"f":552,"s":"U.S. Std","lo":-0.11,"hi":0.07},{"f":561,"s":"U.S. Std","lo":-0.13,"hi":0.1},{"f":566,"s":"U.S. Std","lo":-0.2,"hi":0.1},{"f":572,"s":"U.S. Std","lo":-0.26,"hi":0.26},{"f":575,"s":"U.S. Std","lo":-0.15,"hi":0.185},{"f":582,"s":"U.S. Std","lo":-0.04,"hi":0.03},{"f":593,"s":"U.S. Std","lo":-0.07,"hi":0.05},{"f":612,"s":"U.S. Std","lo":-0.06,"hi":0.05},{"f":617,"s":"U.S. Std","lo":-0.08,"hi":0.06},{"f":621,"s":"U.S. Std","lo":-0.1,"hi":0.17},{"f":628,"s":"U.S. Std","lo":-0.06,"hi":0.06},{"f":635,"s":"U.S. Std","lo":-0.15,"hi":0.1},{"f":640,"s":"U.S. Std","lo":-0.1,"hi":0.07},{"f":645,"s":"U.S. Std","lo":-0.17,"hi":0.1},{"f":648,"s":"U.S. Std","lo":-0.1,"hi":0.09},{"f":650,"s":"U.S. Std","lo":-0.12,"hi":0.13},{"f":654,"s":"U.S. Std","lo":-0.14,"hi":0.14},{"f":657,"s":"U.S. Std","lo":-0.13,"hi":0.11},{"f":659,"s":"U.S. Std","lo":-0.15,"hi":0.11},{"f":661,"s":"U.S. Std","lo":-0.12,"hi":0.1},{"f":663,"s":"U.S. Std","lo":-0.12,"hi":0.13},{"f":667,"s":"U.S. Std","lo":-0.1,"hi":0.08},{"f":670,"s":"U.S. Std","lo":-0.12,"hi":0.09},{"f":677,"s":"U.S. Std","lo":-0.08,"hi":0.09},{"f":684,"s":"U.S. Std","lo":-0.07,"hi":0.08}],
"e":[
{"f":112,"s":"Tropical","lo":-0.02,"hi":0.02},{"f":125,"s":"Tropical","lo":-0.035,"hi":0.033},{"f":166,"s":"Tropical","lo":-0.065,"hi":0.065},{"f":197,"s":"Tropical","lo":-0.065,"hi":0.06},{"f":232,"s":"Tropical","lo":-0.08,"hi":0.075},{"f":237,"s":"Tropical","lo":-0.13,"hi":0.13},{"f":239,"s":"Tropical","lo":-0.135,"hi":0.135},{"f":241,"s":"Tropical","lo":-0.125,"hi":0.13},{"f":245,"s":"Tropical","lo":-0.125,"hi":0.125},{"f":250,"s":"Tropical","lo":-0.1,"hi":0.1},{"f":265,"s":"Tropical","lo":-0.115,"hi":0.115},{"f":275,"s":"Tropical","lo":-0.1,"hi":0.105},{"f":288,"s":"Tropical","lo":-0.12,"hi":0.12},{"f":291,"s":"Tropical","lo":-0.125,"hi":0.12},{"f":352,"s":"Tropical","lo":-0.085,"hi":0.083},{"f":525,"s":"Tropical","lo":-0.09,"hi":0.09},{"f":638,"s":"Tropical","lo":-0.09,"hi":0.085},{"f":642,"s":"Tropical","lo":-0.09,"hi":0.085},{"f":651,"s":"Tropical","lo":-0.125,"hi":0.122},{"f":671,"s":"Tropical","lo":-0.105,"hi":0.105},{"f":699,"s":"Tropical","lo":-0.02,"hi":0.022},
{"f":142,"s":"MidLatSum","lo":-0.03,"hi":0.03},{"f":166,"s":"MidLatSum","lo":-0.06,"hi":0.06},{"f":215,"s":"MidLatSum","lo":-0.055,"hi":0.045},{"f":550,"s":"MidLatSum","lo":-0.055,"hi":0.06},{"f":567,"s":"MidLatSum","lo":-0.1,"hi":0.1},
{"f":291,"s":"MidLatWin","lo":-0.125,"hi":0.12},{"f":303,"s":"MidLatWin","lo":-0.145,"hi":0.14},{"f":468,"s":"MidLatWin","lo":-0.12,"hi":0.12},{"f":481,"s":"MidLatWin","lo":-0.11,"hi":0.11},{"f":488,"s":"MidLatWin","lo":-0.12,"hi":0.12},{"f":520,"s":"MidLatWin","lo":-0.09,"hi":0.09},{"f":594,"s":"MidLatWin","lo":-0.06,"hi":0.06},{"f":611,"s":"MidLatWin","lo":-0.1,"hi":0.09},{"f":653,"s":"MidLatWin","lo":-0.12,"hi":0.11},{"f":671,"s":"MidLatWin","lo":-0.1,"hi":0.105},
{"f":286,"s":"SubArcSum","lo":-0.05,"hi":0.05},{"f":522,"s":"SubArcSum","lo":-0.05,"hi":0.04},{"f":572,"s":"SubArcSum","lo":-0.13,"hi":0.04},{"f":652,"s":"SubArcSum","lo":-0.06,"hi":0.06},
{"f":104,"s":"SubArcWin","lo":-0.05,"hi":0.055},{"f":113,"s":"SubArcWin","lo":-0.05,"hi":0.05},{"f":126,"s":"SubArcWin","lo":-0.04,"hi":0.04},{"f":144,"s":"SubArcWin","lo":-0.058,"hi":0.06},{"f":150,"s":"SubArcWin","lo":-0.035,"hi":0.04},{"f":156,"s":"SubArcWin","lo":-0.036,"hi":0.04},{"f":166,"s":"SubArcWin","lo":-0.06,"hi":0.03},{"f":210,"s":"SubArcWin","lo":-0.05,"hi":0.05},{"f":216,"s":"SubArcWin","lo":-0.05,"hi":0.05},{"f":237,"s":"SubArcWin","lo":-0.05,"hi":0.05},{"f":239,"s":"SubArcWin","lo":-0.06,"hi":0.07},{"f":320,"s":"SubArcWin","lo":-0.1,"hi":0.095},{"f":333,"s":"SubArcWin","lo":-0.115,"hi":0.11},{"f":359,"s":"SubArcWin","lo":-0.153,"hi":0.15},{"f":393,"s":"SubArcWin","lo":-0.1,"hi":0.095},{"f":402,"s":"SubArcWin","lo":-0.12,"hi":0.115},{"f":409,"s":"SubArcWin","lo":-0.133,"hi":0.13},{"f":415,"s":"SubArcWin","lo":-0.11,"hi":0.1},{"f":442,"s":"SubArcWin","lo":-0.09,"hi":0.09},{"f":458,"s":"SubArcWin","lo":-0.1,"hi":0.1},{"f":464,"s":"SubArcWin","lo":-0.105,"hi":0.1},{"f":468,"s":"SubArcWin","lo":-0.12,"hi":0.12},{"f":488,"s":"SubArcWin","lo":-0.12,"hi":0.12},{"f":508,"s":"SubArcWin","lo":-0.08,"hi":0.08},{"f":520,"s":"SubArcWin","lo":-0.07,"hi":0.05},{"f":635,"s":"SubArcWin","lo":-0.1,"hi":0.09},{"f":650,"s":"SubArcWin","lo":-0.11,"hi":0.11},{"f":659,"s":"SubArcWin","lo":-0.1,"hi":0.09},{"f":671,"s":"SubArcWin","lo":-0.08,"hi":0.1},{"f":683,"s":"SubArcWin","lo":-0.05,"hi":0.05},
{"f":104,"s":"U.S. Std","lo":-0.025,"hi":0.027},{"f":112,"s":"U.S. Std","lo":-0.02,"hi":0.02},{"f":197,"s":"U.S. Std","lo":-0.05,"hi":0.04},{"f":216,"s":"U.S. Std","lo":-0.04,"hi":0.035},{"f":234,"s":"U.S. Std","lo":-0.06,"hi":0.05},{"f":237,"s":"U.S. Std","lo":-0.1,"hi":0.1},{"f":239,"s":"U.S. Std","lo":-0.13,"hi":0.1},{"f":241,"s":"U.S. Std","lo":-0.1,"hi":0.08},{"f":244,"s":"U.S. Std","lo":-0.12,"hi":0.09},{"f":247,"s":"U.S. Std","lo":-0.08,"hi":0.06},{"f":250,"s":"U.S. Std","lo":-0.115,"hi":0.08},{"f":258,"s":"U.S. Std","lo":-0.04,"hi":0.03},{"f":265,"s":"U.S. Std","lo":-0.09,"hi":0.09},{"f":270,"s":"U.S. Std","lo":-0.05,"hi":0.04},{"f":275,"s":"U.S. Std","lo":-0.105,"hi":0.08},{"f":282,"s":"U.S. Std","lo":-0.03,"hi":0.03},{"f":289,"s":"U.S. Std","lo":-0.11,"hi":0.1},{"f":296,"s":"U.S. Std","lo":-0.03,"hi":0.03},{"f":303,"s":"U.S. Std","lo":-0.12,"hi":0.14},{"f":313,"s":"U.S. Std","lo":-0.03,"hi":0.03},{"f":320,"s":"U.S. Std","lo":-0.06,"hi":0.05},{"f":333,"s":"U.S. Std","lo":-0.05,"hi":0.07},{"f":345,"s":"U.S. Std","lo":-0.03,"hi":0.03},{"f":352,"s":"U.S. Std","lo":-0.05,"hi":0.05},{"f":355,"s":"U.S. Std","lo":-0.08,"hi":0.05},{"f":359,"s":"U.S. Std","lo":-0.1,"hi":0.07},{"f":362,"s":"U.S. Std","lo":-0.06,"hi":0.05},{"f":366,"s":"U.S. Std","lo":-0.07,"hi":0.05},{"f":372,"s":"U.S. Std","lo":-0.03,"hi":0.03},{"f":385,"s":"U.S. Std","lo":-0.03,"hi":0.03},{"f":393,"s":"U.S. Std","lo":-0.05,"hi":0.05},{"f":398,"s":"U.S. Std","lo":-0.05,"hi":0.04},{"f":402,"s":"U.S. Std","lo":-0.07,"hi":0.07},{"f":409,"s":"U.S. Std","lo":-0.09,"hi":0.085},{"f":415,"s":"U.S. Std","lo":-0.05,"hi":0.05},{"f":424,"s":"U.S. Std","lo":-0.03,"hi":0.03},{"f":430,"s":"U.S. Std","lo":-0.065,"hi":0.035},{"f":442,"s":"U.S. Std","lo":-0.06,"hi":0.03},{"f":450,"s":"U.S. Std","lo":-0.03,"hi":0.03},{"f":458,"s":"U.S. Std","lo":-0.05,"hi":0.06},{"f":463,"s":"U.S. Std","lo":-0.08,"hi":0.07},{"f":468,"s":"U.S. Std","lo":-0.07,"hi":0.06},{"f":473,"s":"U.S. Std","lo":-0.1,"hi":0.06},{"f":477,"s":"U.S. Std","lo":-0.06,"hi":0.05},{"f":481,"s":"U.S. Std","lo":-0.1,"hi":0.07},{"f":488,"s":"U.S. Std","lo":-0.105,"hi":0.11},{"f":498,"s":"U.S. Std","lo":-0.04,"hi":0.03},{"f":508,"s":"U.S. Std","lo":-0.04,"hi":0.04},{"f":517,"s":"U.S. Std","lo":-0.04,"hi":0.04},{"f":520,"s":"U.S. Std","lo":-0.05,"hi":0.05},{"f":524,"s":"U.S. Std","lo":-0.06,"hi":0.05},{"f":536,"s":"U.S. Std","lo":-0.03,"hi":0.02},{"f":546,"s":"U.S. Std","lo":-0.05,"hi":0.045},{"f":559,"s":"U.S. Std","lo":-0.04,"hi":0.035},{"f":567,"s":"U.S. Std","lo":-0.1,"hi":0.085},{"f":571,"s":"U.S. Std","lo":-0.167,"hi":0.173},{"f":574,"s":"U.S. Std","lo":-0.07,"hi":0.07},{"f":585,"s":"U.S. Std","lo":-0.03,"hi":0.03},{"f":594,"s":"U.S. Std","lo":-0.05,"hi":0.05},{"f":611,"s":"U.S. Std","lo":-0.05,"hi":0.04},{"f":620,"s":"U.S. Std","lo":-0.03,"hi":0.03},{"f":635,"s":"U.S. Std","lo":-0.09,"hi":0.05},{"f":638,"s":"U.S. Std","lo":-0.07,"hi":0.06},{"f":642,"s":"U.S. Std","lo":-0.09,"hi":0.06},{"f":646,"s":"U.S. Std","lo":-0.07,"hi":0.06},{"f":650,"s":"U.S. Std","lo":-0.08,"hi":0.05},{"f":654,"s":"U.S. Std","lo":-0.1,"hi":0.09},{"f":657,"s":"U.S. Std","lo":-0.07,"hi":0.06},{"f":661,"s":"U.S. Std","lo":-0.06,"hi":0.05},{"f":667,"s":"U.S. Std","lo":-0.06,"hi":0.05},{"f":673,"s":"U.S. Std","lo":-0.04,"hi":0.065}],
"base":[{"a":15,"b":700,"v":0,"s":"U.S. Std"}]
},
"resolve":{"scale":{"color":"independent"},"legend":{"color":"independent"}},
"columns":2,"bounds":"flush","spacing":{"row":136.6,"column":502.4},
"concat":[
{"width":536,"height":289,"title":{"text":"O₃ S","offset":14},"resolve":{"axis":{"x":"independent","y":"independent"}},"layer":[
{"data":{"name":"a"},"mark":{"type":"rule","strokeWidth":2.6},"encoding":{"x":{"field":"f","type":"quantitative","scale":{"domain":[0,700],"nice":false},"axis":{"values":[0,200,400,600],"title":"Frequency (GHz)","format":"d"}},"y":{"field":"lo","type":"quantitative","scale":{"domain":[-0.574,0.555],"nice":false},"axis":{"values":[-0.5,0,0.5],"title":"ΔT\u00a0\u00a0\u00a0(K)","labelExpr":"datum.value<0?'-'+format(-datum.value,'~g'):format(datum.value,'~g')"}},"y2":{"field":"hi"},"color":{"field":"s","type":"nominal","legend":null,"scale":{"domain":["Tropical","MidLatSum","MidLatWin","SubArcSum","SubArcWin","U.S. Std"],"range":["#ff0000","#ff00ff","#00ff00","#0000ff","#00ffff","#000000"]}}}},
{"data":{"name":"base"},"mark":{"type":"rule","strokeWidth":2.5,"color":"#000000"},"encoding":{"x":{"field":"a","type":"quantitative","axis":null},"x2":{"field":"b"},"y":{"field":"v","type":"quantitative","axis":null}}},
{"data":{"values":[{"t":"B"}]},"mark":{"type":"text","fontSize":20,"angle":270,"color":"#262626","clip":false},"encoding":{"text":{"field":"t"},"x":{"datum":-94,"type":"quantitative","axis":null},"y":{"datum":-0.033,"type":"quantitative","axis":null}}},
{"data":{"values":[{"t":"(a)"}]},"mark":{"type":"text","font":"Liberation Sans","fontSize":31,"align":"left","color":"#000000"},"encoding":{"text":{"field":"t"},"x":{"datum":17,"type":"quantitative","axis":{"orient":"top","values":[0,200,400,600],"labels":false,"title":null,"grid":false}},"y":{"datum":0.458,"type":"quantitative","axis":{"orient":"right","values":[-0.5,0,0.5],"labels":false,"title":null,"grid":false}}}}]},
{"width":536,"height":289,"title":{"text":"O₃ γₐ","offset":6},"resolve":{"axis":{"x":"independent","y":"independent"}},"layer":[
{"data":{"name":"b"},"mark":{"type":"rule","strokeWidth":2.6},"encoding":{"x":{"field":"f","type":"quantitative","scale":{"domain":[0,700],"nice":false},"axis":{"values":[0,200,400,600],"title":"Frequency (GHz)","format":"d"}},"y":{"field":"lo","type":"quantitative","scale":{"domain":[-1,1],"nice":false},"axis":{"values":[-1,-0.5,0,0.5,1],"title":"ΔT\u00a0\u00a0\u00a0(K)","labelExpr":"datum.value<0?'-'+format(-datum.value,'~g'):format(datum.value,'~g')"}},"y2":{"field":"hi"},"color":{"field":"s","type":"nominal","legend":null,"scale":{"domain":["Tropical","MidLatSum","MidLatWin","SubArcSum","SubArcWin","U.S. Std"],"range":["#ff0000","#ff00ff","#00ff00","#0000ff","#00ffff","#000000"]}}}},
{"data":{"name":"base"},"mark":{"type":"rule","strokeWidth":2.5,"color":"#000000"},"encoding":{"x":{"field":"a","type":"quantitative","axis":null},"x2":{"field":"b"},"y":{"field":"v","type":"quantitative","axis":null}}},
{"data":{"values":[{"t":"B"}]},"mark":{"type":"text","fontSize":20,"angle":270,"color":"#262626","clip":false},"encoding":{"text":{"field":"t"},"x":{"datum":-94,"type":"quantitative","axis":null},"y":{"datum":-0.041,"type":"quantitative","axis":null}}},
{"data":{"values":[{"t":"(b)"}]},"mark":{"type":"text","font":"Liberation Sans","fontSize":31,"align":"left","color":"#000000"},"encoding":{"text":{"field":"t"},"x":{"datum":17,"type":"quantitative","axis":{"orient":"top","values":[0,200,400,600],"labels":false,"title":null,"grid":false}},"y":{"datum":0.828,"type":"quantitative","axis":{"orient":"right","values":[-1,-0.5,0,0.5,1],"labels":false,"title":null,"grid":false}}}}]},
{"width":536,"height":289,"title":{"text":"O₃ ν","offset":6},"resolve":{"axis":{"x":"independent","y":"independent"}},"layer":[
{"data":{"name":"c"},"mark":{"type":"rule","strokeWidth":2.6},"encoding":{"x":{"field":"f","type":"quantitative","scale":{"domain":[0,700],"nice":false},"axis":{"values":[0,200,400,600],"title":"Frequency (GHz)","format":"d"}},"y":{"field":"lo","type":"quantitative","scale":{"domain":[-1,1],"nice":false},"axis":{"values":[-1,-0.5,0,0.5,1],"title":"ΔT\u00a0\u00a0\u00a0(K)","labelExpr":"datum.value<0?'-'+format(-datum.value,'~g'):format(datum.value,'~g')"}},"y2":{"field":"hi"},"color":{"field":"s","type":"nominal","legend":null,"scale":{"domain":["Tropical","MidLatSum","MidLatWin","SubArcSum","SubArcWin","U.S. Std"],"range":["#ff0000","#ff00ff","#00ff00","#0000ff","#00ffff","#000000"]}}}},
{"data":{"name":"base"},"mark":{"type":"rule","strokeWidth":2.5,"color":"#000000"},"encoding":{"x":{"field":"a","type":"quantitative","axis":null},"x2":{"field":"b"},"y":{"field":"v","type":"quantitative","axis":null}}},
{"data":{"values":[{"t":"B"}]},"mark":{"type":"text","fontSize":20,"angle":270,"color":"#262626","clip":false},"encoding":{"text":{"field":"t"},"x":{"datum":-94,"type":"quantitative","axis":null},"y":{"datum":-0.041,"type":"quantitative","axis":null}}},
{"data":{"values":[{"t":"(c)"}]},"mark":{"type":"text","font":"Liberation Sans","fontSize":31,"align":"left","color":"#000000"},"encoding":{"text":{"field":"t"},"x":{"datum":17,"type":"quantitative","axis":{"orient":"top","values":[0,200,400,600],"labels":false,"title":null,"grid":false}},"y":{"datum":0.828,"type":"quantitative","axis":{"orient":"right","values":[-1,-0.5,0,0.5,1],"labels":false,"title":null,"grid":false}}}}]},
{"width":536,"height":289,"title":{"text":"O₃ E","dx":-21,"offset":-11},"resolve":{"axis":{"x":"independent","y":"independent"}},"layer":[
{"data":{"name":"d"},"mark":{"type":"rule","strokeWidth":2.6},"encoding":{"x":{"field":"f","type":"quantitative","scale":{"domain":[0,700],"nice":false},"axis":{"values":[0,200,400,600],"title":"Frequency (GHz)","format":"d"}},"y":{"field":"lo","type":"quantitative","scale":{"domain":[-0.4,0.4],"nice":false},"axis":{"values":[-0.4,-0.2,0,0.2,0.4],"title":"ΔT\u00a0\u00a0\u00a0(K)","labelExpr":"datum.value<0?'-'+format(-datum.value,'~g'):format(datum.value,'~g')"}},"y2":{"field":"hi"},"color":{"field":"s","type":"nominal","legend":null,"scale":{"domain":["Tropical","MidLatSum","MidLatWin","SubArcSum","SubArcWin","U.S. Std"],"range":["#ff0000","#ff00ff","#00ff00","#0000ff","#00ffff","#000000"]}}}},
{"data":{"name":"base"},"mark":{"type":"rule","strokeWidth":2.5,"color":"#000000"},"encoding":{"x":{"field":"a","type":"quantitative","axis":null},"x2":{"field":"b"},"y":{"field":"v","type":"quantitative","axis":null}}},
{"data":{"values":[{"t":"B"}]},"mark":{"type":"text","fontSize":20,"angle":270,"color":"#262626","clip":false},"encoding":{"text":{"field":"t"},"x":{"datum":-94,"type":"quantitative","axis":null},"y":{"datum":-0.0166,"type":"quantitative","axis":null}}},
{"data":{"values":[{"t":"low"}]},"mark":{"type":"text","fontSize":22,"fontWeight":"bold","align":"left","color":"#000000","clip":false},"encoding":{"text":{"field":"t"},"x":{"datum":372,"type":"quantitative","axis":null},"y":{"datum":0.443,"type":"quantitative","axis":null}}},
{"data":{"values":[{"t":"(d)"}]},"mark":{"type":"text","font":"Liberation Sans","fontSize":31,"align":"left","color":"#000000"},"encoding":{"text":{"field":"t"},"x":{"datum":17,"type":"quantitative","axis":{"orient":"top","values":[0,200,400,600],"labels":false,"title":null,"grid":false}},"y":{"datum":0.331,"type":"quantitative","axis":{"orient":"right","values":[-0.4,-0.2,0,0.2,0.4],"labels":false,"title":null,"grid":false}}}}]},
{"width":536,"height":289,"title":{"text":"O₃ nₐ","offset":5},"resolve":{"axis":{"x":"independent","y":"independent"}},"layer":[
{"data":{"name":"e"},"mark":{"type":"rule","strokeWidth":2.6},"encoding":{"x":{"field":"f","type":"quantitative","scale":{"domain":[0,700],"nice":false},"axis":{"values":[0,200,400,600],"title":"Frequency (GHz)","format":"d"}},"y":{"field":"lo","type":"quantitative","scale":{"domain":[-0.2,0.2],"nice":false},"axis":{"values":[-0.2,-0.1,0,0.1,0.2],"title":"ΔT\u00a0\u00a0\u00a0(K)","labelExpr":"datum.value<0?'-'+format(-datum.value,'~g'):format(datum.value,'~g')"}},"y2":{"field":"hi"},"color":{"field":"s","type":"nominal","scale":{"domain":["Tropical","MidLatSum","MidLatWin","SubArcSum","SubArcWin","U.S. Std"],"range":["#ff0000","#ff00ff","#00ff00","#0000ff","#00ffff","#000000"]},"legend":{"title":null,"orient":"none","legendX":594,"legendY":52,"symbolType":"stroke","symbolSize":15625,"symbolStrokeWidth":2,"symbolOffset":5,"clipHeight":22,"rowPadding":6.5,"padding":8,"strokeColor":"#262626","labelFontSize":22,"labelFont":"DejaVu Sans","labelColor":"#000000","labelOffset":8,"labelExpr":"datum.label+'\u00a0\u00a0'","fillColor":"#ffffff"}}}},
{"data":{"name":"base"},"mark":{"type":"rule","strokeWidth":2.5,"color":"#000000"},"encoding":{"x":{"field":"a","type":"quantitative","axis":null},"x2":{"field":"b"},"y":{"field":"v","type":"quantitative","axis":null}}},
{"data":{"values":[{"t":"B"}]},"mark":{"type":"text","fontSize":20,"angle":270,"color":"#262626","clip":false},"encoding":{"text":{"field":"t"},"x":{"datum":-94,"type":"quantitative","axis":null},"y":{"datum":-0.0083,"type":"quantitative","axis":null}}},
{"data":{"values":[{"t":"(e)"}]},"mark":{"type":"text","font":"Liberation Sans","fontSize":31,"align":"left","color":"#000000"},"encoding":{"text":{"field":"t"},"x":{"datum":17,"type":"quantitative","axis":{"orient":"top","values":[0,200,400,600],"labels":false,"title":null,"grid":false}},"y":{"datum":0.1655,"type":"quantitative","axis":{"orient":"right","values":[-0.2,-0.1,0,0.1,0.2],"labels":false,"title":null,"grid":false}}}}]}
]}
